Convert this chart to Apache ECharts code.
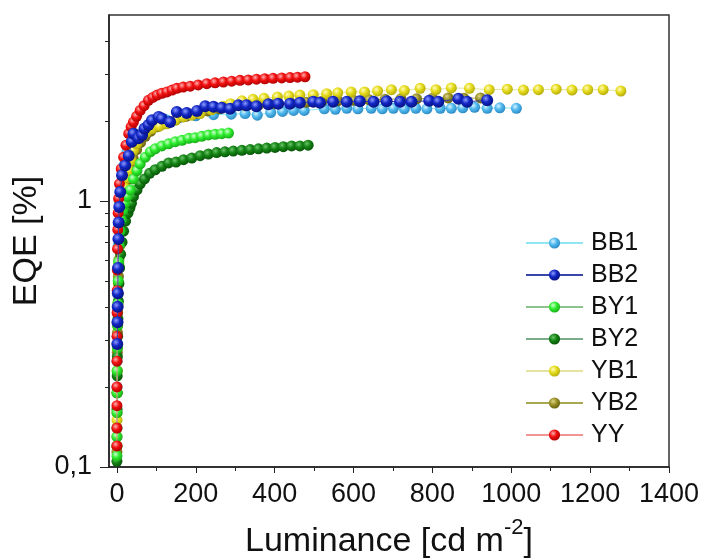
<!DOCTYPE html>
<html>
<head>
<meta charset="utf-8">
<script src="https://cdn.jsdelivr.net/npm/echarts@6/dist/echarts.min.js"></script>
<style>
  html, body { margin: 0; padding: 0; background: #ffffff; }
  #chart { width: 702px; height: 559px; }
</style>
</head>
<body>
<div id="chart"></div>
<script>
// ---- axis ticks ----
const xTickValues = [0, 200, 400, 600, 800, 1000, 1200, 1400];
const xMinorTickValues = [100, 300, 500, 700, 900, 1100, 1300];
const yTickValues = [0.1, 1];
const yMinorTickValues = [0.2, 0.3, 0.4, 0.5, 0.6, 0.7, 0.8, 0.9, 2, 3, 4];

// ---- measured curves: luminance (cd m^-2) and EQE (%) ----
const seriesNames = ['BB1', 'BB2', 'BY1', 'BY2', 'YB1', 'YB2', 'YY'];

const bb1Lum = [0.3, 0.5, 0.8, 1.2, 1.7, 2.4, 3.3, 4.6, 6.5, 10, 16, 25, 36, 50, 70, 95, 125, 160, 200, 245,
  290, 325, 356, 390, 420, 448, 475, 526, 554, 583, 611, 645, 673, 701, 729, 758, 786, 820, 848, 877,
  907, 939, 971, 1013];
const bb1Eqe = [0.2, 0.25, 0.31, 0.38, 0.46, 0.56, 0.68, 0.82, 0.98, 1.15, 1.35, 1.52, 1.66, 1.78, 1.88, 1.96, 2.02, 2.06, 2.09, 2.11,
  2.12, 2.13, 2.10, 2.15, 2.17, 2.19, 2.19, 2.22, 2.21, 2.23, 2.22, 2.23, 2.22, 2.23, 2.22, 2.23, 2.22, 2.23, 2.23, 2.24,
  2.25, 2.23, 2.24, 2.23];

const bb2Lum = [1.0, 1.5, 2.0, 2.4, 3.0, 3.8, 4.5, 6.0, 8.5, 13, 21, 30, 38, 42, 55, 64, 70, 80, 89, 106,
  114, 135, 152, 177, 203, 224, 245, 266, 287, 308, 329, 354, 384, 409, 439, 464, 498, 515, 548, 583,
  616, 651, 684, 718, 747, 792, 815, 866, 888, 939];
const bb2Eqe = [0.29, 0.35, 0.40, 0.45, 0.56, 0.72, 0.83, 0.95, 1.08, 1.25, 1.36, 1.48, 1.67, 1.79, 1.72, 1.77, 1.87, 1.93, 2.01, 2.07,
  2.04, 1.98, 2.16, 2.14, 2.18, 2.27, 2.26, 2.24, 2.22, 2.29, 2.29, 2.27, 2.31, 2.32, 2.32, 2.34, 2.36, 2.34, 2.36, 2.36,
  2.37, 2.36, 2.37, 2.36, 2.36, 2.38, 2.36, 2.42, 2.36, 2.39];

const by1Lum = [0.1, 0.2, 0.35, 0.55, 0.8, 1.2, 1.7, 2.4, 3.3, 4.5, 6, 8, 11, 15, 20, 26, 34, 42, 51, 59,
  72, 85, 97, 114, 131, 148, 165, 182, 198, 215, 232, 249, 266, 283];
const by1Eqe = [0.11, 0.13, 0.16, 0.19, 0.23, 0.28, 0.34, 0.41, 0.5, 0.59, 0.68, 0.77, 0.85, 0.92, 0.98, 1.04, 1.10, 1.21, 1.30, 1.38,
  1.46, 1.53, 1.57, 1.61, 1.64, 1.67, 1.69, 1.72, 1.73, 1.75, 1.77, 1.78, 1.79, 1.80];

const by2Lum = [0.05, 0.1, 0.18, 0.3, 0.5, 0.8, 1.2, 1.8, 2.6, 3.7, 5.2, 7, 9.5, 13, 17, 22, 28, 33, 37, 42,
  51, 59, 70, 83, 97, 114, 131, 150, 169, 190, 211, 232, 253, 274, 295, 317, 338, 359, 380, 401,
  422, 443, 464, 485];
const by2Eqe = [0.105, 0.12, 0.14, 0.165, 0.19, 0.22, 0.26, 0.31, 0.36, 0.42, 0.49, 0.56, 0.63, 0.7, 0.77, 0.84, 0.9, 0.94, 0.98, 1.04,
  1.10, 1.16, 1.21, 1.27, 1.31, 1.35, 1.39, 1.40, 1.43, 1.45, 1.48, 1.50, 1.52, 1.53, 1.54, 1.55, 1.56, 1.57, 1.58, 1.59,
  1.60, 1.61, 1.61, 1.62];

const yb1Lum = [0.15, 0.3, 0.5, 0.8, 1.2, 1.8, 2.6, 3.6, 5, 7, 10, 14, 20, 26, 30, 36, 42, 50, 59, 74,
  89, 108, 127, 148, 169, 190, 211, 240, 270, 288, 317, 345, 373, 407, 436, 464, 498, 532, 560, 594,
  628, 661, 696, 729, 769, 809, 848, 894, 944, 990, 1031, 1069, 1114, 1154, 1194, 1233, 1278];
const yb1Eqe = [0.12, 0.15, 0.19, 0.23, 0.28, 0.34, 0.41, 0.49, 0.58, 0.68, 0.8, 0.95, 1.12, 1.22, 1.30, 1.42, 1.55, 1.64, 1.74, 1.81,
  1.87, 1.91, 1.95, 2.01, 2.07, 2.10, 2.13, 2.20, 2.27, 2.32, 2.38, 2.41, 2.43, 2.46, 2.48, 2.50, 2.51, 2.53, 2.55, 2.57,
  2.57, 2.59, 2.62, 2.60, 2.65, 2.62, 2.66, 2.65, 2.62, 2.63, 2.61, 2.62, 2.63, 2.61, 2.62, 2.62, 2.59];

const yb2Lum = [0.08, 0.15, 0.28, 0.45, 0.7, 1.0, 1.4, 2.0, 2.8, 3.8, 5, 6.5, 8.5, 11, 15, 20, 26, 33, 41, 50,
  60, 72, 86, 102, 120, 133, 150, 175, 200, 230, 260, 290, 325, 360, 400, 440, 480, 520, 560, 600,
  640, 680, 720, 760, 800, 840, 880, 922];
const yb2Eqe = [0.114, 0.13, 0.16, 0.19, 0.23, 0.27, 0.32, 0.38, 0.45, 0.52, 0.6, 0.68, 0.77, 0.86, 0.97, 1.08, 1.2, 1.33, 1.45, 1.56,
  1.66, 1.75, 1.83, 1.90, 1.95, 1.98, 2.02, 2.08, 2.13, 2.18, 2.22, 2.25, 2.28, 2.30, 2.32, 2.34, 2.35, 2.37, 2.38, 2.39,
  2.40, 2.41, 2.42, 2.42, 2.43, 2.44, 2.43, 2.44];

const yyLum = [0.05, 0.08, 0.12, 0.18, 0.26, 0.38, 0.55, 0.8, 1.1, 1.6, 2.3, 3.2, 4.4, 6.5, 11, 17, 23, 30, 36, 42,
  50, 59, 69, 80, 91, 102, 114, 127, 140, 152, 168, 186, 206, 228, 249, 270, 291, 312, 333, 354,
  375, 396, 418, 439, 458, 477];
const yyEqe = [0.12, 0.14, 0.17, 0.2, 0.25, 0.31, 0.38, 0.46, 0.55, 0.66, 0.78, 0.9, 1.02, 1.16, 1.32, 1.46, 1.62, 1.79, 1.9, 1.98,
  2.08, 2.19, 2.28, 2.39, 2.45, 2.50, 2.54, 2.57, 2.61, 2.65, 2.68, 2.70, 2.73, 2.76, 2.78, 2.80, 2.82, 2.84, 2.85, 2.87,
  2.88, 2.89, 2.90, 2.91, 2.92, 2.93];

const curves = {
  BB1: [bb1Lum, bb1Eqe],
  BB2: [bb2Lum, bb2Eqe],
  BY1: [by1Lum, by1Eqe],
  BY2: [by2Lum, by2Eqe],
  YB1: [yb1Lum, yb1Eqe],
  YB2: [yb2Lum, yb2Eqe],
  YY: [yyLum, yyEqe]
};

// ---- appearance ----
const FONT = '"Liberation Sans", Arial, Helvetica, sans-serif';
const INK = '#111111';
const looks = {
  //       sphere highlight, body, rim, connecting line, stacking order, marker size
  BB1: { hi: '#d8f4ff', body: '#4fb9ee', rim: '#2a86c0', line: '#8fe6f0', z: 2, size: 11 },
  BB2: { hi: '#8c9cff', body: '#1226c4', rim: '#05107a', line: '#3a46a8', z: 8, size: 12 },
  BY1: { hi: '#d0ffd0', body: '#30ee30', rim: '#14a814', line: '#8cc28c', z: 6, size: 11 },
  BY2: { hi: '#6cc46c', body: '#148414', rim: '#065006', line: '#7aac8a', z: 5, size: 11 },
  YB1: { hi: '#fffbc0', body: '#e6dc1c', rim: '#b0a80c', line: '#e4e4a0', z: 4, size: 11 },
  YB2: { hi: '#ddd68a', body: '#9a9226', rim: '#635d10', line: '#a8a850', z: 3, size: 11 },
  YY:  { hi: '#ffb0b0', body: '#f21010', rim: '#a80000', line: '#f29494', z: 7, size: 11 }
};

function sphere(c) {
  return {
    type: 'radial', x: 0.38, y: 0.35, r: 0.7,
    colorStops: [
      { offset: 0, color: c.hi },
      { offset: 0.45, color: c.body },
      { offset: 1, color: c.rim }
    ]
  };
}

const series = seriesNames.map(name => {
  const [lum, eqe] = curves[name];
  const c = looks[name];
  return {
    name: name,
    type: 'line',
    xAxisIndex: 0,
    yAxisIndex: 0,
    z: c.z,
    data: lum.map((x, i) => [x, eqe[i]]),
    symbol: 'circle',
    symbolSize: c.size,
    showSymbol: true,
    showAllSymbol: true,
    lineStyle: { color: c.line, width: 1 },
    itemStyle: { color: sphere(c), borderWidth: 0 },
    emphasis: { disabled: true }
  };
});

const axisLine = { show: true, onZero: false, lineStyle: { color: '#222', width: 1.5 } };
const decimalComma = v => String(+v.toPrecision(6)).replace('.', ',');
const plainNumber = v => String(v);

const option = {
  animation: false,
  backgroundColor: '#ffffff',
  grid: {
    left: 109, right: 33, top: 15, bottom: 92,
    outerBoundsMode: 'none',
    containLabel: false,
    show: true, borderColor: '#333', borderWidth: 1.5, backgroundColor: 'transparent'
  },
  legend: {
    data: seriesNames,
    orient: 'vertical',
    left: 525,
    top: 230,
    padding: 0,
    itemWidth: 57,
    itemHeight: 14,
    itemGap: 6,
    textStyle: { fontFamily: FONT, fontSize: 25, color: INK, lineHeight: 26, padding: [0, 0, 0, 3] },
    selectedMode: false
  },
  xAxis: [
    {
      type: 'value', position: 'bottom', min: -20, max: 1400,
      name: '{n|Luminance [cd m}{sup|-2}{n|]}',
      nameLocation: 'middle', nameGap: 50,
      nameTextStyle: {
        fontFamily: FONT, color: INK,
        rich: {
          n: { fontFamily: FONT, fontSize: 34, color: INK, lineHeight: 50 },
          sup: { fontFamily: FONT, fontSize: 22, color: INK, lineHeight: 22, verticalAlign: 'top' }
        }
      },
      axisLine: axisLine,
      axisTick: { show: true, inside: false, length: 6, customValues: xTickValues, lineStyle: { color: '#222', width: 1 } },
      axisLabel: { show: true, customValues: xTickValues, margin: 14, fontFamily: FONT, fontSize: 27, color: INK, formatter: plainNumber },
      splitLine: { show: false }
    },
    {
      type: 'value', position: 'bottom', min: -20, max: 1400,
      axisLine: { show: false, onZero: false },
      axisTick: { show: true, inside: false, length: 4, customValues: xMinorTickValues, lineStyle: { color: '#222', width: 1 } },
      axisLabel: { show: false },
      splitLine: { show: false }
    }
  ],
  yAxis: [
    {
      type: 'log', logBase: 10, position: 'left', min: 0.1, max: 5,
      name: 'EQE [%]',
      nameLocation: 'middle', nameGap: 59,
      nameTextStyle: { fontFamily: FONT, fontSize: 34, color: INK },
      axisLine: axisLine,
      axisTick: { show: true, inside: false, length: 9, customValues: yTickValues, lineStyle: { color: '#222', width: 1 } },
      axisLabel: { show: true, customValues: yTickValues, margin: 17, fontFamily: FONT, fontSize: 27, color: INK, formatter: decimalComma },
      splitLine: { show: false },
      minorTick: { show: false }
    },
    {
      type: 'log', logBase: 10, position: 'left', min: 0.1, max: 5,
      axisLine: { show: false, onZero: false },
      axisTick: { show: true, inside: false, length: 4, customValues: yMinorTickValues, lineStyle: { color: '#222', width: 1 } },
      axisLabel: { show: false },
      splitLine: { show: false }
    }
  ],
  series: series
};

const chart = echarts.init(document.getElementById('chart'), null, { renderer: 'canvas' });
chart.setOption(option);
</script>
</body>
</html>
